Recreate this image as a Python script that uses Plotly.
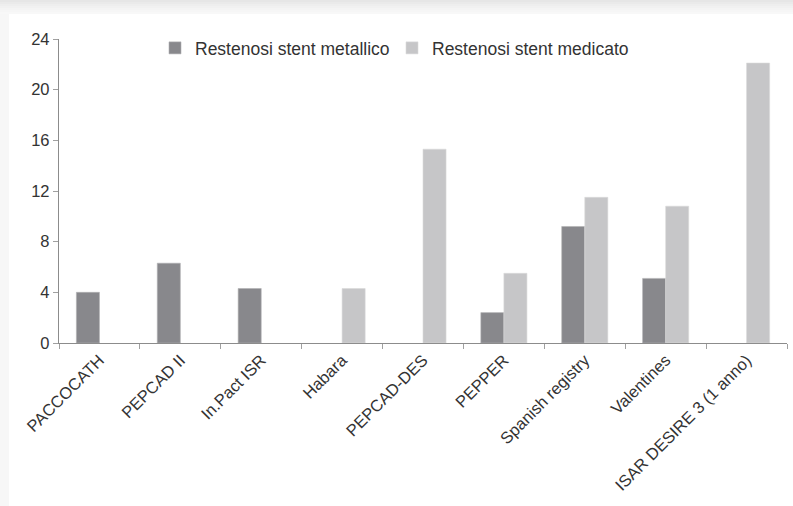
import plotly.graph_objects as go

categories = ["PACCOCATH", "PEPCAD II", "In.Pact ISR", "Habara", "PEPCAD-DES",
              "PEPPER", "Spanish registry", "Valentines", "ISAR DESIRE 3 (1 anno)"]
metallico = [4.0, 6.3, 4.3, None, None, 2.4, 9.2, 5.1, None]
medicato = [None, None, None, 4.3, 15.3, 5.5, 11.5, 10.8, 22.1]
y_ticks = [0, 4, 8, 12, 16, 20, 24]

W, H = 793, 506
ml, mr, mt, mb = 59, 6, 39, 163
pw, ph = W - ml - mr, H - mt - mb

def px2x(p):
    return (p - ml) / pw

def px2y(p):
    return (H - mb - p) / ph

fig = go.Figure()
fig.add_trace(go.Bar(x=categories, y=metallico, name="Restenosi stent metallico",
                     marker=dict(color="#88888c", line=dict(width=0.6, color="#b0b0b2"))))
fig.add_trace(go.Bar(x=categories, y=medicato, name="Restenosi stent medicato",
                     marker=dict(color="#c6c6c8", line=dict(width=0.6, color="#dadada"))))

shapes = [
    dict(type="rect", xref="paper", yref="paper", x0=px2x(9), x1=px2x(W + 5),
         y0=px2y(H + 5), y1=px2y(14), fillcolor="white", line=dict(width=0), layer="below"),
]
grads = ["#e6e6e6", "#eaeaea", "#eeeeee", "#f1f1f1", "#f4f4f4", "#f6f6f6", "#f8f8f8"]
for i, c in enumerate(grads):
    shapes.append(dict(type="rect", xref="paper", yref="paper", x0=px2x(-5), x1=px2x(W + 5),
                       y0=px2y(2 * i + 2), y1=px2y(2 * i), fillcolor=c, line=dict(width=0), layer="below"))

fig.update_layout(
    width=W, height=H,
    margin=dict(l=ml, r=mr, t=mt, b=mb),
    paper_bgcolor="#f7f7f7", plot_bgcolor="rgba(0,0,0,0)",
    font=dict(family="Liberation Sans, Arial, sans-serif", size=16.5, color="#333333"),
    barmode="group", bargap=0.43, bargroupgap=0,
    shapes=shapes,
    showlegend=True,
    legend=dict(orientation="h", x=px2x(155), xanchor="left", y=px2y(48), yanchor="middle",
                bgcolor="rgba(0,0,0,0)", font=dict(size=17.5, color="#333333"),
                itemwidth=30, entrywidth=192, traceorder="normal"),
    xaxis=dict(showline=True, linecolor="#8c8c8c", linewidth=1.3, ticks="outside",
               tickson="boundaries", ticklen=5, tickcolor="#a0a0a0", tickangle=-45,
               showgrid=False, zeroline=False, tickfont=dict(size=16.5, color="#333333"),
               range=[-0.5, 8.5]),
    yaxis=dict(range=[0, 24], tickvals=y_ticks, showline=True, linecolor="#8c8c8c",
               linewidth=1.3, ticks="outside", ticklen=5, tickcolor="#a0a0a0",
               showgrid=False, zeroline=False, tickfont=dict(size=16.5, color="#333333")),
)

fig.write_html("out.html")
